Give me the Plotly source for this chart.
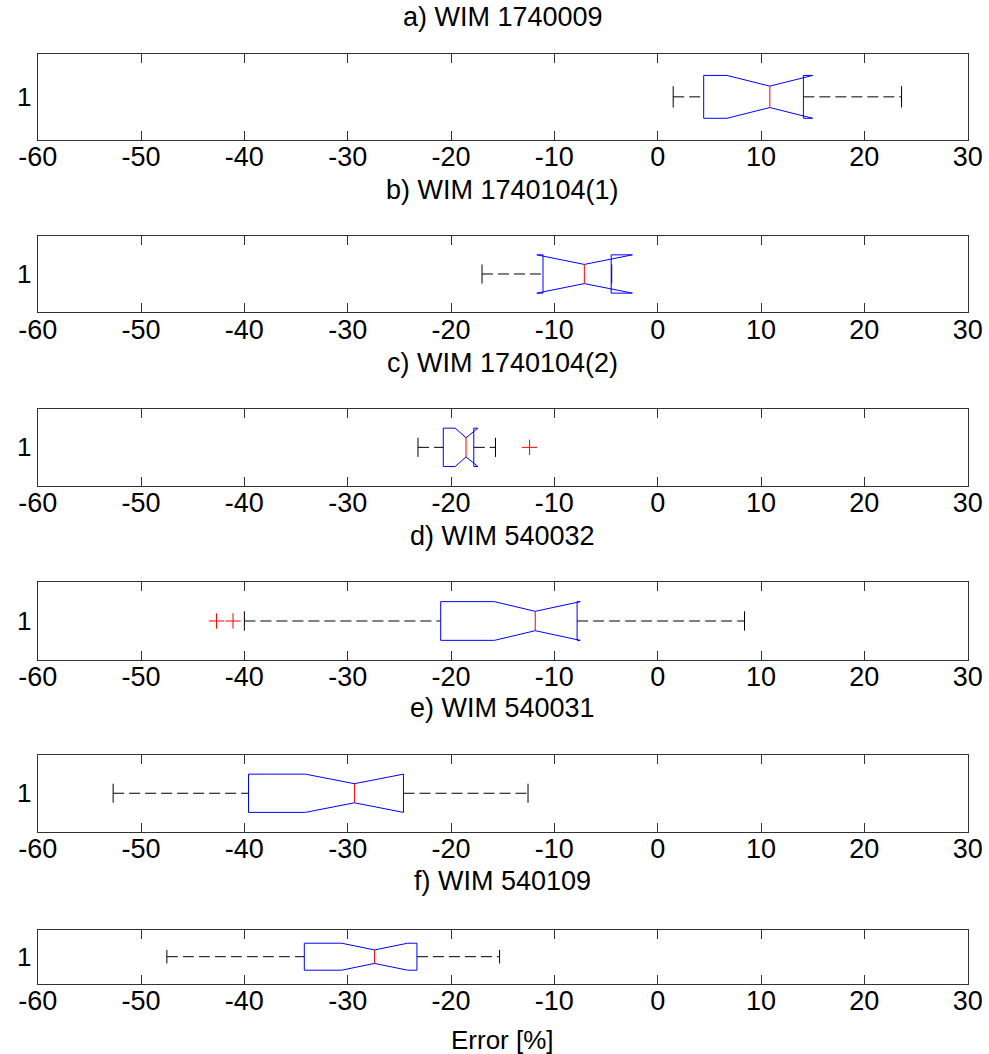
import plotly.graph_objects as go

# ---- data ----
titles = ["a) WIM 1740009", "b) WIM 1740104(1)", "c) WIM 1740104(2)",
          "d) WIM 540032", "e) WIM 540031", "f) WIM 540109"]
whisker_lo = [1.5, -17.0, -23.2, -40.0, -52.7, -47.5]
q1 = [4.45, -11.1, -20.75, -21.0, -39.6, -34.2]
notch_lo = [6.7, -11.7, -19.6, -15.8, -34.1, -30.6]
median = [10.85, -7.1, -18.55, -11.85, -29.35, -27.4]
notch_hi = [15.0, -2.45, -17.4, -7.5, -24.6, -24.2]
q3 = [14.1, -4.5, -17.8, -7.8, -24.6, -23.3]
whisker_hi = [23.6, -4.45, -15.7, 8.4, -12.55, -15.3]
outliers = [[], [], [-12.4], [-42.7, -41.1], [], []]
x_ticks = [-60, -50, -40, -30, -20, -10, 0, 10, 20, 30]
x_label = "Error [%]"

# ---- layout (pixels) ----
W, H = 989, 1054
frames = [(54, 139.7), (235.7, 312.3), (409, 485.7), (582.3, 659.7), (755, 831.5), (929.7, 983.7)]
title_y = [17, 190, 363, 536, 708, 881]
x_left, x_right = 37.7, 967.7
FONT = "Liberation Sans, Arial, Helvetica, sans-serif"
BW, NW = 0.25, 0.125

fig = go.Figure()
layout = dict(width=W, height=H, margin=dict(l=0, r=0, t=0, b=0, autoexpand=False), autosize=False,
              paper_bgcolor="white", plot_bgcolor="white", showlegend=False)
annotations = []

for i in range(6):
    xa = "x" if i == 0 else f"x{i+1}"
    ya = "y" if i == 0 else f"y{i+1}"
    # whiskers (dashed)
    fig.add_trace(go.Scatter(
        x=[whisker_lo[i], q1[i], None, q3[i], whisker_hi[i]],
        y=[1, 1, None, 1, 1], mode="lines", xaxis=xa, yaxis=ya,
        line=dict(color="black", width=1, dash="11px,5px"), hoverinfo="skip"))
    # whisker caps
    fig.add_trace(go.Scatter(
        x=[whisker_lo[i], whisker_lo[i], None, whisker_hi[i], whisker_hi[i]],
        y=[1 - NW, 1 + NW, None, 1 - NW, 1 + NW], mode="lines", xaxis=xa, yaxis=ya,
        line=dict(color="black", width=1), hoverinfo="skip"))
    # notched box
    bx = [q1[i], notch_lo[i], median[i], notch_hi[i], q3[i], q3[i],
          notch_hi[i], median[i], notch_lo[i], q1[i], q1[i]]
    by = [1 - BW, 1 - BW, 1 - NW, 1 - BW, 1 - BW, 1 + BW,
          1 + BW, 1 + NW, 1 + BW, 1 + BW, 1 - BW]
    fig.add_trace(go.Scatter(x=bx, y=by, mode="lines", xaxis=xa, yaxis=ya,
                             line=dict(color="#0000ff", width=1), hoverinfo="skip"))
    # median
    fig.add_trace(go.Scatter(x=[median[i], median[i]], y=[1 - NW, 1 + NW], mode="lines",
                             xaxis=xa, yaxis=ya, line=dict(color="#ff0000", width=1),
                             hoverinfo="skip"))
    # outliers
    if outliers[i]:
        fig.add_trace(go.Scatter(x=outliers[i], y=[1] * len(outliers[i]), mode="markers",
                                 xaxis=xa, yaxis=ya, hoverinfo="skip",
                                 marker=dict(symbol="cross-thin", size=11,
                                             line=dict(color="#ff0000", width=1))))
    top, bot = frames[i]
    xkey = "xaxis" if i == 0 else f"xaxis{i+1}"
    ykey = "yaxis" if i == 0 else f"yaxis{i+1}"
    layout[xkey] = dict(domain=[x_left / W, x_right / W], anchor=ya, range=[-60, 30],
                        tickmode="array", tickvals=x_ticks, ticktext=[str(v) for v in x_ticks],
                        ticks="inside", ticklen=9, tickcolor="#333", tickwidth=1,
                        showline=True, linecolor="#333", linewidth=1, mirror="ticks",
                        showgrid=False, zeroline=False, automargin=False,
                        ticklabelstandoff=-7,
                        tickfont=dict(family=FONT, size=27, color="black"))
    layout[ykey] = dict(domain=[1 - bot / H, 1 - top / H], anchor=xa, range=[0.5, 1.5],
                        tickmode="array", tickvals=[1], ticktext=["1"], ticks="",
                        showline=True, linecolor="#333", linewidth=1, mirror=True,
                        showgrid=False, zeroline=False, automargin=False,
                        tickfont=dict(family=FONT, size=26, color="black"))
    annotations.append(dict(text=titles[i], xref="paper", yref="paper",
                            x=(x_left + x_right) / 2 / W, y=1 - title_y[i] / H,
                            xanchor="center", yanchor="middle", showarrow=False,
                            font=dict(family=FONT, size=27, color="black")))

annotations.append(dict(text=x_label, xref="paper", yref="paper",
                        x=(x_left + x_right) / 2 / W, y=1 - 1040 / H,
                        xanchor="center", yanchor="middle", showarrow=False,
                        font=dict(family=FONT, size=26, color="black")))
layout["annotations"] = annotations
fig.update_layout(**layout)
fig.write_html("out.html")
